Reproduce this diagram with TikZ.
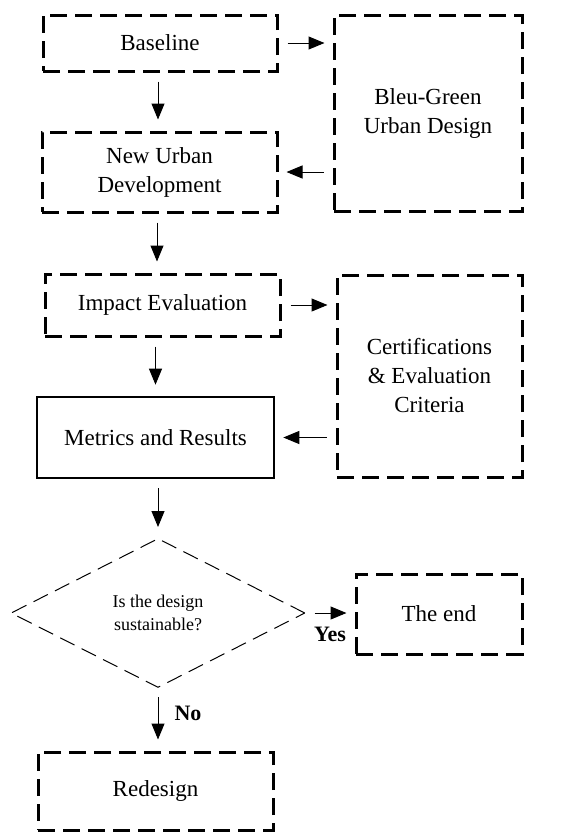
\documentclass[tikz,border=0pt]{standalone}
\usepackage{fontspec}
\setmainfont{Liberation Serif}
\usetikzlibrary{positioning}
\usetikzlibrary{shapes.geometric}
\usetikzlibrary{arrows.meta}

\begin{document}
\begin{tikzpicture}[
    x = 0.5pt,
    y = -0.5pt,
    shorten <= 4.5pt,
    shorten >= 5.5pt,
    ]

    \tikzstyle{dashbox}=[
    draw = black,
    line width = 1.5pt,
    dash pattern = on 8.5pt off 4pt,
    align = center,
    inner sep = 0pt,
    font = \fontsize{11.5}{14.5}\selectfont,
    ]
    \tikzstyle{solidbox}=[
    dashbox,
    solid,
    line width = 1.3pt,
    ]
    \tikzstyle{decision}=[
    diamond,
    draw = black,
    line width = 0.5pt,
    dash pattern = on 8pt off 4pt,
    align = center,
    inner sep = 0pt,
    minimum width = 147pt,
    minimum height = 74.5pt,
    font = \fontsize{9}{11.5}\selectfont,
    ]
    \tikzstyle{flow}=[
    -{Triangle[length=8pt, width=6.5pt]},
    line width = 0.5pt,
    ]
    \tikzstyle{side}=[
    flow,
    shorten >= 4pt,
    ]
    \tikzstyle{lbl}=[
    font = \fontsize{11}{13}\selectfont\bfseries,
    inner sep = 0pt,
    ]

    \useasboundingbox (0,0) rectangle (568,832);

    \node[dashbox, minimum width=117pt, minimum height=28pt] (base) at (160,43) {Baseline};
    \node[dashbox, minimum width=94pt, minimum height=98pt] (bgud) at (428,113) {Bleu-Green\\Urban Design};
    \node[dashbox, minimum width=117.5pt, minimum height=40pt] (newdev) at (159.5,172) {New Urban\\Development};
    \node[dashbox, minimum width=117.5pt, minimum height=31pt] (impact) at (162.5,305) {Impact Evaluation};
    \node[dashbox, minimum width=92.5pt, minimum height=101pt] (cert) at (429.5,376) {Certifications\\\& Evaluation\\Criteria};
    \node[solidbox, minimum width=118.5pt, minimum height=40.5pt] (metrics) at (155.5,437.5) {Metrics and Results};
    \node[decision] (dec) at (158,613) {Is the design\\sustainable?};
    \node[dashbox, minimum width=83pt, minimum height=40pt] (theend) at (439,614) {The end};
    \node[dashbox, minimum width=117.5pt, minimum height=39pt] (redesign) at (155.5,791) {Redesign};

    \draw[side] (base.east) -- (base.east -| bgud.west);
    \draw[flow] (base.south -| 158,0) -- (newdev.north -| 158,0);
    \draw[side] (bgud.west |- newdev.east) -- (newdev.east);
    \draw[flow] (newdev.south -| 157,0) -- (impact.north -| 157,0);
    \draw[side] (impact.east) -- (impact.east -| cert.west);
    \draw[flow] (impact.south -| metrics.north) -- (metrics.north);
    \draw[side] (cert.west |- metrics.east) -- (metrics.east);
    \draw[flow] (metrics.south -| dec.north) -- (dec.north);
    \draw[side] (dec.east) -- (dec.east -| theend.west)
        node[lbl, midway, below=7pt] {Yes};
    \draw[flow] (dec.south) -- (dec.south |- redesign.north)
        node[lbl, pos=0.4, right=8pt] {No};
  \end{tikzpicture}
\end{document}
